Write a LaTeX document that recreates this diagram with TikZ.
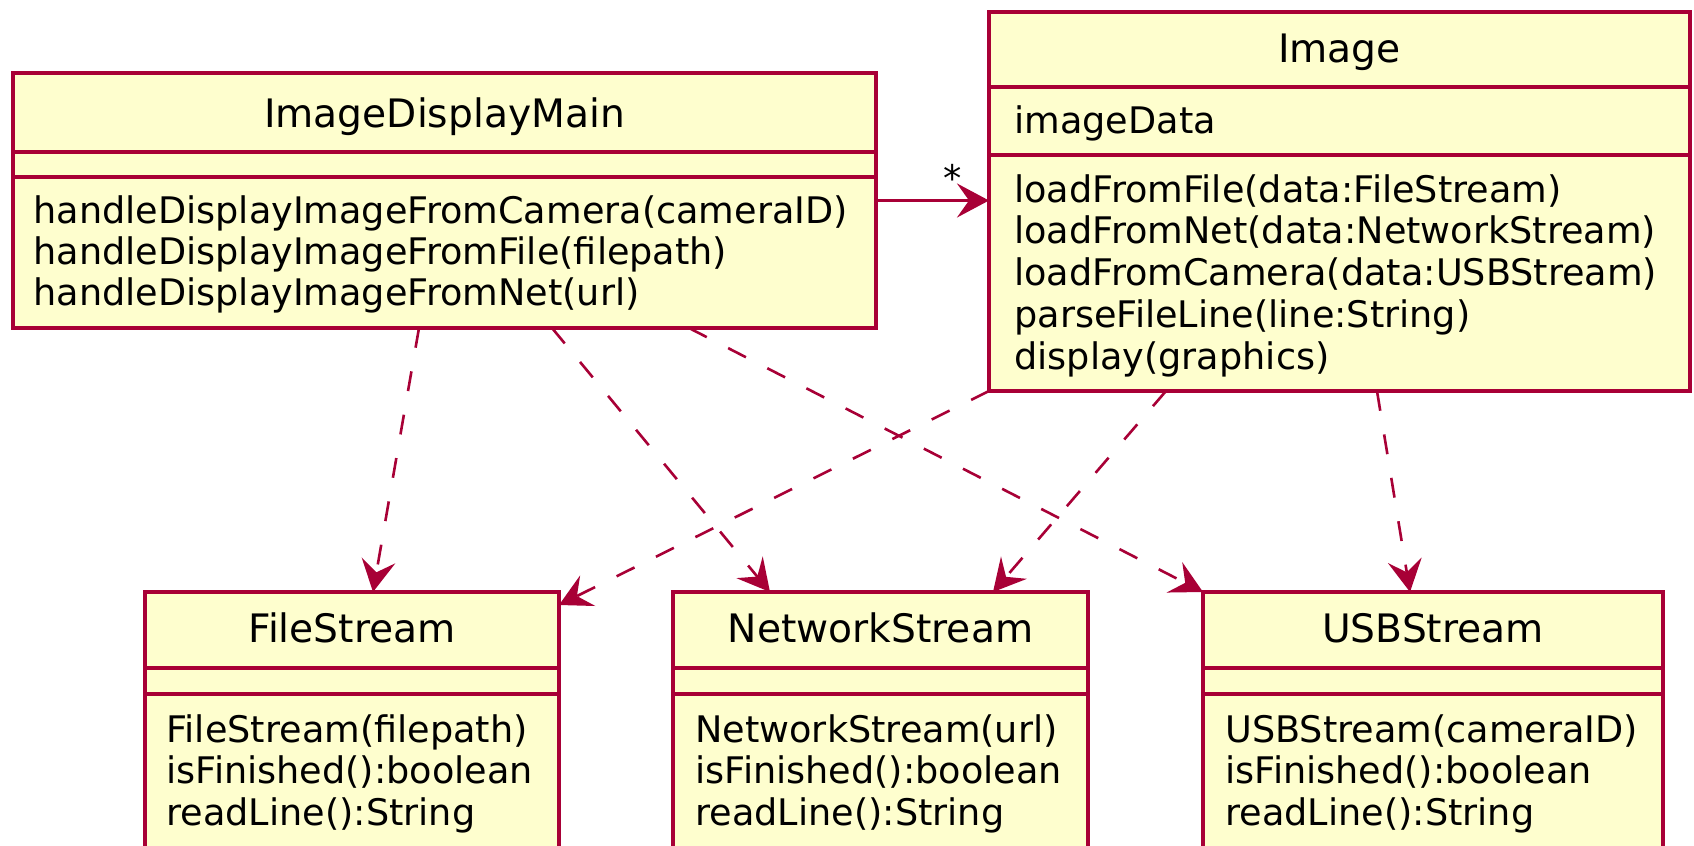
\documentclass[tikz,border=0pt]{standalone}
\usepackage{fontspec}
\setmainfont{DejaVu Sans}
\usetikzlibrary{arrows.meta}

\definecolor{umlfill}{HTML}{FEFECE}
\definecolor{umlred}{HTML}{A80036}

\tikzset{
  classbox/.style={draw=umlred, fill=umlfill, line width=1.6pt, inner sep=0pt, outer sep=0pt, anchor=north west},
  sepline/.style={draw=umlred, line width=1.6pt},
  classname/.style={font=\fontsize{19.6}{23}\selectfont, anchor=base, inner sep=0pt},
  member/.style={font=\fontsize{18.3}{20.5}\selectfont, anchor=base west, inner sep=0pt},
  umlhead/.style={-{Stealth[length=16pt, width=17pt, inset=6pt]}},
  dep/.style={umlred, line width=1.3pt, dash pattern=on 10pt off 12pt, umlhead},
  assoc/.style={umlred, line width=1.3pt, umlhead},
}

\begin{document}
\begin{tikzpicture}[x=0.5pt, y=-0.5pt]
  \clip (0,0) rectangle (1694,846);

  % ImageDisplayMain
  \node[classbox, minimum width=431.5pt, minimum height=127.5pt](idm) at (13,73){};
  \node[classname](idm-t) at (444.5,127){ImageDisplayMain};
  \draw[sepline] ([yshift=-39.5pt]idm.north west) -- ([yshift=-39.5pt]idm.north east);
  \draw[sepline] ([yshift=-52pt]idm.north west) -- ([yshift=-52pt]idm.north east);
  \foreach \m [count=\i] in {handleDisplayImageFromCamera(cameraID), handleDisplayImageFromFile(filepath), handleDisplayImageFromNet(url)}
    \node[member](idm-m\i) at (33, 223+41*\i-41){\m};

  % Image
  \node[classbox, minimum width=350.5pt, minimum height=189.5pt](img) at (989,12){};
  \node[classname](img-t) at (1339.5,62){Image};
  \draw[sepline] ([yshift=-37.5pt]img.north west) -- ([yshift=-37.5pt]img.north east);
  \draw[sepline] ([yshift=-71.5pt]img.north west) -- ([yshift=-71.5pt]img.north east);
  \node[member](img-a1) at (1014,133){imageData};
  \foreach \m [count=\i] in {loadFromFile(data:FileStream), loadFromNet(data:NetworkStream), loadFromCamera(data:USBStream), parseFileLine(line:String), display(graphics)}
    \node[member](img-m\i) at (1014, 202+41.75*\i-41.75){\m};

  % FileStream
  \node[classbox, minimum width=207pt, minimum height=134pt](fs) at (145,592){};
  \node[classname](fs-t) at (352,642){FileStream};
  \draw[sepline] ([yshift=-38pt]fs.north west) -- ([yshift=-38pt]fs.north east);
  \draw[sepline] ([yshift=-51pt]fs.north west) -- ([yshift=-51pt]fs.north east);
  \foreach \m [count=\i] in {FileStream(filepath), isFinished():boolean, readLine():String}
    \node[member](fs-m\i) at (166, 742+41.5*\i-41.5){\m};

  % NetworkStream
  \node[classbox, minimum width=207.5pt, minimum height=134pt](ns) at (673,592){};
  \node[classname](ns-t) at (880.5,642){NetworkStream};
  \draw[sepline] ([yshift=-38pt]ns.north west) -- ([yshift=-38pt]ns.north east);
  \draw[sepline] ([yshift=-51pt]ns.north west) -- ([yshift=-51pt]ns.north east);
  \foreach \m [count=\i] in {NetworkStream(url), isFinished():boolean, readLine():String}
    \node[member](ns-m\i) at (695, 742+41.5*\i-41.5){\m};

  % USBStream
  \node[classbox, minimum width=230pt, minimum height=134pt](usb) at (1203,592){};
  \node[classname](usb-t) at (1433,642){USBStream};
  \draw[sepline] ([yshift=-38pt]usb.north west) -- ([yshift=-38pt]usb.north east);
  \draw[sepline] ([yshift=-51pt]usb.north west) -- ([yshift=-51pt]usb.north east);
  \foreach \m [count=\i] in {USBStream(cameraID), isFinished():boolean, readLine():String}
    \node[member](usb-m\i) at (1225, 742+41.5*\i-41.5){\m};

  % connectors
  \path[assoc]
  (idm.east) edge (idm.east -| img.west);
  \node[member, anchor=base](mult) at (953,191){*};

  \path[dep]
  ([xshift=203pt]idm.south west) edge ([xshift=114pt]fs.north west)
  ([xshift=269.5pt]idm.south west) edge ([xshift=48.5pt]ns.north west)
  ([xshift=338pt]idm.south west) edge (usb.north west)
  (img.south west) edge ([yshift=-6.5pt]fs.north east)
  ([xshift=88.5pt]img.south west) edge ([xshift=160pt]ns.north west)
  ([xshift=194pt]img.south west) edge ([xshift=103.5pt]usb.north west);
\end{tikzpicture}
\end{document}
